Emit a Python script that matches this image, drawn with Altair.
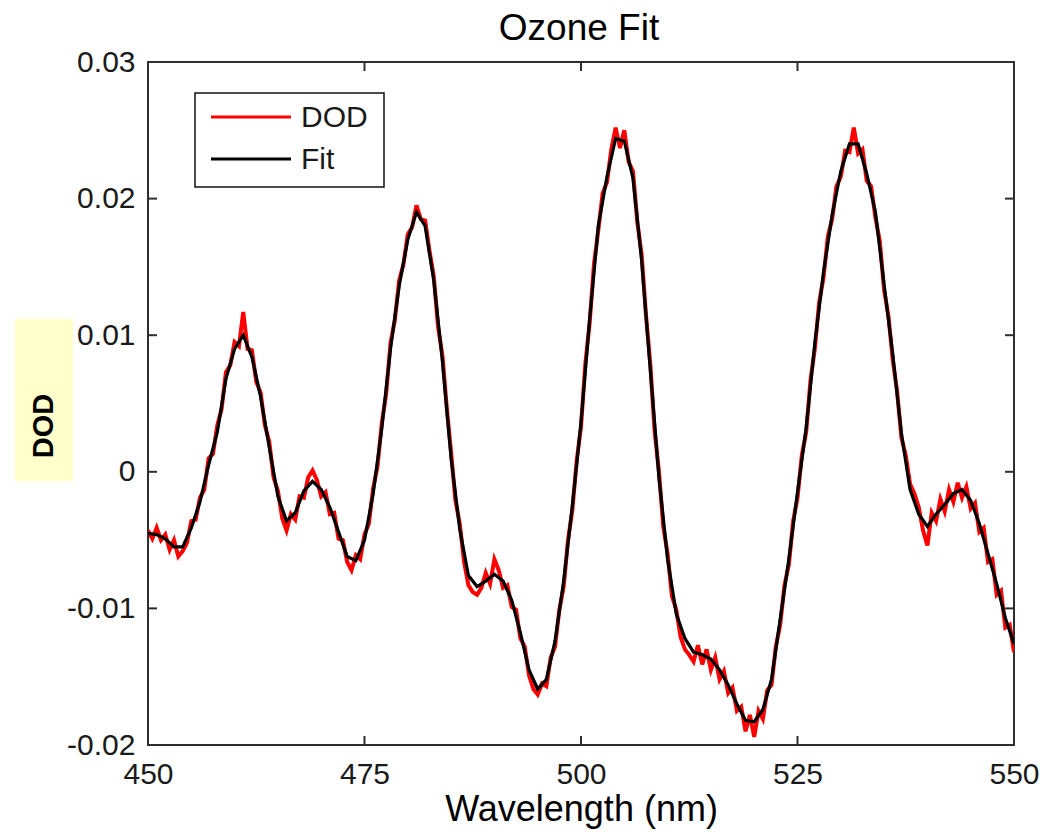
import altair as alt
import pandas as pd

# ---------------- data ----------------
FIT_WL = list(range(450, 551))  # 1 nm grid
FIT = [
    -0.0045, -0.0046, -0.0049, -0.0055, -0.0055, -0.0041, -0.0022, 0.0005, 0.0029, 0.0068,   # 450-459
    0.0090, 0.0100, 0.0084, 0.0055, 0.0018, -0.0018, -0.0036, -0.0030, -0.0014, -0.0007,     # 460-469
    -0.0013, -0.0026, -0.0044, -0.0062, -0.0065, -0.0050, -0.0016, 0.0032, 0.0090, 0.0136,   # 470-479
    0.0170, 0.0190, 0.0180, 0.0140, 0.0081, 0.0010, -0.0042, -0.0076, -0.0084, -0.0080,      # 480-489
    -0.0075, -0.0080, -0.0094, -0.0118, -0.0145, -0.0159, -0.0152, -0.0124, -0.0080, -0.0025,  # 490-499
    0.0036, 0.0112, 0.0180, 0.0216, 0.0244, 0.0242, 0.0215, 0.0155, 0.0075, -0.0004,         # 500-509
    -0.0064, -0.0104, -0.0122, -0.0132, -0.0134, -0.0137, -0.0145, -0.0156, -0.0170, -0.0182,  # 510-519
    -0.0183, -0.0174, -0.0152, -0.0108, -0.0064, -0.0015, 0.0032, 0.0094, 0.0146, 0.0188,    # 520-529
    0.0220, 0.0240, 0.0240, 0.0218, 0.0190, 0.0137, 0.0086, 0.0028, -0.0013, -0.0031,        # 530-539
    -0.0040, -0.0031, -0.0024, -0.0016, -0.0013, -0.0021, -0.0038, -0.0060, -0.0082, -0.0107,  # 540-549
    -0.0126,                                                                                   # 550
]

DOD_WL = [450 + 0.5 * i for i in range(201)]  # 0.5 nm grid
DOD = [
    -0.0043, -0.0049, -0.0041, -0.0050, -0.0046, -0.0057, -0.0050, -0.0062, -0.0058, -0.0052,
    -0.0036, -0.0035, -0.0019, -0.0013, 0.0010, 0.0013, 0.0034, 0.0046, 0.0073, 0.0078,
    0.0095, 0.0092, 0.0117, 0.0090, 0.0089, 0.0066, 0.0058, 0.0034, 0.0022, -0.0004,
    -0.0014, -0.0034, -0.0043, -0.0031, -0.0035, -0.0018, -0.0019, -0.0004, 0.0001, -0.0006,
    -0.0018, -0.0015, -0.0031, -0.0030, -0.0049, -0.0050, -0.0066, -0.0072, -0.0061, -0.0064,
    -0.0046, -0.0038, -0.0012, 0.0004, 0.0036, 0.0057, 0.0094, 0.0111, 0.0140, 0.0152,
    0.0174, 0.0179, 0.0195, 0.0185, 0.0184, 0.0162, 0.0143, 0.0106, 0.0085, 0.0047,
    0.0014, -0.0021, -0.0038, -0.0066, -0.0083, -0.0088, -0.0090, -0.0085, -0.0074, -0.0082,
    -0.0064, -0.0072, -0.0085, -0.0083, -0.0099, -0.0101, -0.0122, -0.0128, -0.0149, -0.0159,
    -0.0163, -0.0155, -0.0157, -0.0136, -0.0128, -0.0101, -0.0084, -0.0050, -0.0028, 0.0008,
    0.0033, 0.0079, 0.0109, 0.0152, 0.0177, 0.0204, 0.0212, 0.0236, 0.0252, 0.0237,
    0.0250, 0.0227, 0.0220, 0.0183, 0.0159, 0.0115, 0.0079, 0.0030, 0.0000, -0.0040,
    -0.0060, -0.0091, -0.0101, -0.0121, -0.0130, -0.0134, -0.0139, -0.0127, -0.0141, -0.0130,
    -0.0145, -0.0136, -0.0152, -0.0146, -0.0162, -0.0158, -0.0175, -0.0172, -0.0190, -0.0178,
    -0.0194, -0.0175, -0.0181, -0.0160, -0.0156, -0.0128, -0.0112, -0.0083, -0.0068, -0.0036,
    -0.0019, 0.0012, 0.0029, 0.0067, 0.0090, 0.0124, 0.0142, 0.0172, 0.0185, 0.0209,
    0.0216, 0.0235, 0.0234, 0.0252, 0.0233, 0.0236, 0.0213, 0.0209, 0.0186, 0.0169,
    0.0133, 0.0114, 0.0082, 0.0059, 0.0025, 0.0012, -0.0009, -0.0016, -0.0026, -0.0043,
    -0.0054, -0.0030, -0.0036, -0.0020, -0.0029, -0.0013, -0.0022, -0.0008, -0.0019, -0.0011,
    -0.0027, -0.0023, -0.0044, -0.0041, -0.0066, -0.0064, -0.0090, -0.0087, -0.0114, -0.0112,
    -0.0132,
]

X_TICKS = [450, 475, 500, 525, 550]
Y_TICKS = [-0.02, -0.01, 0, 0.01, 0.02, 0.03]
LEGEND_LABELS = ["DOD", "Fit"]
TITLE = "Ozone Fit"
X_TITLE = "Wavelength (nm)"
Y_TITLE = "DOD"

# ---------------- layout / style ----------------
W, H = 866, 683
FONT = "Liberation Sans"
BORDER = "#2e2e2e"
TICK_LEN = 9

fit_df = pd.DataFrame({"wl": FIT_WL, "v": FIT})
dod_df = pd.DataFrame({"wl": DOD_WL, "v": DOD})
xt_df = pd.DataFrame({"wl": X_TICKS})
yt_df = pd.DataFrame({"v": Y_TICKS})
one = alt.Data(values=[{"a": 1}])

xscale = alt.Scale(domain=[450, 550], nice=False, zero=False)
yscale = alt.Scale(domain=[-0.02, 0.03], nice=False, zero=False)

xaxis = alt.Axis(
    values=X_TICKS, ticks=False, domain=False, grid=False,
    labelFontSize=30, labelFont=FONT, labelColor="#1a1a1a", labelPadding=14,
    labelFlush=False, labelOverlap=False,
    titleFontSize=36, titleFont=FONT, titleFontWeight="normal", titleColor="#000000",
    titlePadding=3,
)
yaxis = alt.Axis(
    values=Y_TICKS, ticks=False, domain=False, grid=False,
    labelFontSize=30, labelFont=FONT, labelColor="#1a1a1a", labelPadding=13,
    labelFlush=False, labelOverlap=False,
    labelExpr="datum.value < 0 ? '-' + format(-datum.value, '.2~f') : format(datum.value, '.2~f')",
)

X = alt.X("wl:Q", scale=xscale, axis=xaxis, title=X_TITLE)
Y = alt.Y("v:Q", scale=yscale, axis=yaxis, title=None)

dod_line = alt.Chart(dod_df).mark_line(color="#ff0000", strokeWidth=4, clip=True).encode(x=X, y=Y)
fit_line = alt.Chart(fit_df).mark_line(color="#000000", strokeWidth=3.2, clip=True).encode(x=X, y=Y)

# inward ticks on all four sides
xt_bottom = alt.Chart(xt_df).mark_rule(color=BORDER, strokeWidth=2).encode(
    x=X, y=alt.value(H), y2=alt.value(H - TICK_LEN))
xt_top = alt.Chart(xt_df).mark_rule(color=BORDER, strokeWidth=2).encode(
    x=X, y=alt.value(0), y2=alt.value(TICK_LEN))
yt_left = alt.Chart(yt_df).mark_rule(color=BORDER, strokeWidth=2).encode(
    y=Y, x=alt.value(0), x2=alt.value(TICK_LEN))
yt_right = alt.Chart(yt_df).mark_rule(color=BORDER, strokeWidth=2).encode(
    y=Y, x=alt.value(W), x2=alt.value(W - TICK_LEN))

# legend box (MATLAB style)
leg_box = alt.Chart(one).mark_rect(fill="white", stroke="#111111", strokeWidth=1.5).encode(
    x=alt.value(47), x2=alt.value(236), y=alt.value(31), y2=alt.value(125))
leg_red = alt.Chart(one).mark_rule(color="#ff0000", strokeWidth=3).encode(
    x=alt.value(63), x2=alt.value(143), y=alt.value(55))
leg_black = alt.Chart(one).mark_rule(color="#000000", strokeWidth=3).encode(
    x=alt.value(63), x2=alt.value(143), y=alt.value(97))
leg_t1 = alt.Chart(one).mark_text(text=LEGEND_LABELS[0], align="left", baseline="middle",
                                  fontSize=30, font=FONT, color="#1a1a1a").encode(
    x=alt.value(153), y=alt.value(56))
leg_t2 = alt.Chart(one).mark_text(text=LEGEND_LABELS[1], align="left", baseline="middle",
                                  fontSize=30, font=FONT, color="#1a1a1a").encode(
    x=alt.value(153), y=alt.value(98))

# y-axis title on a pale yellow patch
ybox = alt.Chart(one).mark_rect(fill="#FFFFCC").encode(
    x=alt.value(-133), x2=alt.value(-75), y=alt.value(257), y2=alt.value(419))
ytext = alt.Chart(one).mark_text(text=Y_TITLE, angle=270, fontWeight="bold", fontSize=29,
                                 font=FONT, align="center", baseline="middle", color="#000000").encode(
    x=alt.value(-104), y=alt.value(364))

# chart title
title_mark = alt.Chart(one).mark_text(text=TITLE, fontSize=37, font=FONT, align="center",
                                      baseline="alphabetic", color="#000000").encode(
    x=alt.value(431), y=alt.value(-22))

chart = alt.layer(
    ybox, ytext, dod_line, fit_line, xt_bottom, xt_top, yt_left, yt_right,
    leg_box, leg_red, leg_black, leg_t1, leg_t2, title_mark,
).properties(
    width=W, height=H,
    autosize=alt.AutoSizeParams(type="none"),
    padding={"left": 148, "top": 62, "right": 42, "bottom": 89},
    background="white",
).configure_view(stroke=BORDER, strokeWidth=2)

chart.save("out.html", embed_options={"renderer": "svg", "actions": False})
